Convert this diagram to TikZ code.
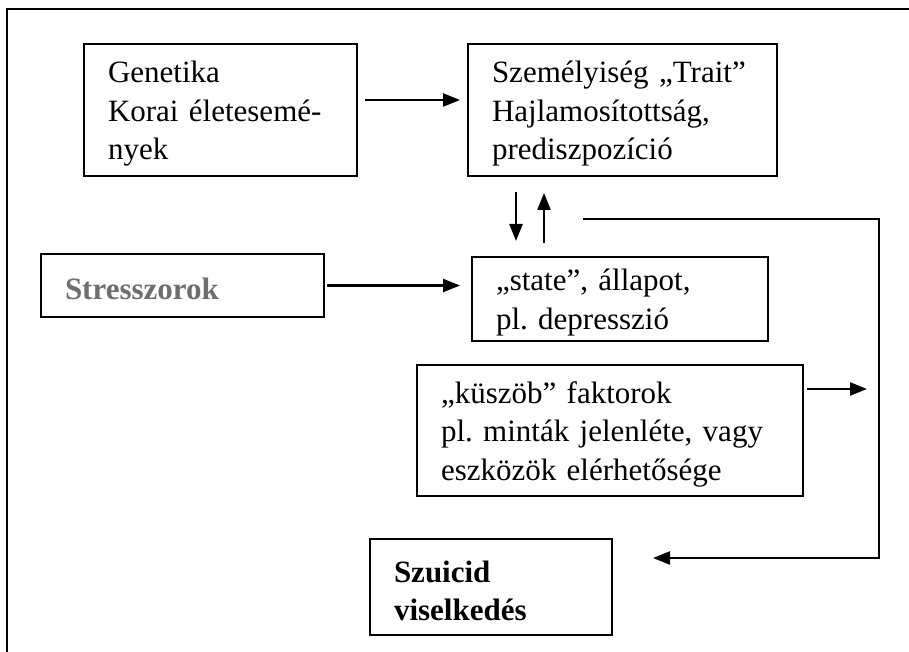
\documentclass[tikz,border=0pt]{standalone}
\usepackage{fontspec}
\setmainfont{Liberation Serif}
\usetikzlibrary{arrows.meta}

\definecolor{stressgray}{HTML}{6E6E6E}

\tikzset{
  box/.style={draw, line width=2pt, align=left, inner xsep=24pt, inner ysep=0pt,
    font=\fontsize{31}{38.5}\selectfont\frenchspacing, execute at begin node={\rule{0pt}{29pt}}},
  link/.style={line width=2.4pt, -{Triangle[length=17pt,width=13pt]}},
}

\begin{document}
\begin{tikzpicture}[x=1pt,y=-1pt]
  % Keep the page at the size of the original figure.
  \useasboundingbox (0,0) rectangle (909,652);

  % Outer frame, cut off on the right and at the bottom.
  \draw[line width=2pt] (909,9) -- (7,9) -- (7,652);

  % Boxes.
  \node[box, text width=225pt, minimum height=132pt] (gen) at (220.5,110)
    {Genetika\\Korai életesemé-\\nyek};
  \node[box, text width=261pt, minimum height=132pt] (trait) at (622.5,110)
    {Személyiség „Trait”\\Hajlamosítottság,\\prediszpozíció};
  \node[box, text width=235pt, minimum height=63pt, text=stressgray] (stress) at (182.5,285.5)
    {\bfseries Stresszorok};
  \node[box, text width=248pt, minimum height=84pt] (state) at (620,299)
    {„state”, állapot,\\pl. depresszió};
  \node[box, text width=338pt, minimum height=131pt] (kusz) at (610,430.5)
    {„küszöb” faktorok\\pl. minták jelenléte, vagy\\eszközök elérhetősége};
  \node[box, text width=194pt, minimum height=96pt] (szui) at (491,587)
    {\bfseries Szuicid\\viselkedés};

  % Feedback line ends.
  \coordinate (fbstart) at (583,219);
  \coordinate (fbend) at (653,558);

  % Arrows.
  \draw[link, shorten <=7pt, shorten >=7pt] ([yshift=10pt]gen.east) -- ([yshift=10pt]trait.west);
  \draw[link, shorten <=2pt, shorten >=11pt] (stress.east) -- (stress.east -| state.west);
  \draw[link, shorten <=15pt, shorten >=15pt] ([xshift=-106.5pt]trait.south) -- ([xshift=-106.5pt]trait.south |- state.north);
  \draw[link, shorten <=13pt, shorten >=16pt] ([xshift=-78.5pt]trait.south |- state.north) -- ([xshift=-78.5pt]trait.south);
  \draw[link, shorten <=3pt] ([yshift=41.5pt]kusz.east) -- ++(63,0);
  \draw[link] (fbstart) -- ++(296,0) |- (fbend);
\end{tikzpicture}
\end{document}
